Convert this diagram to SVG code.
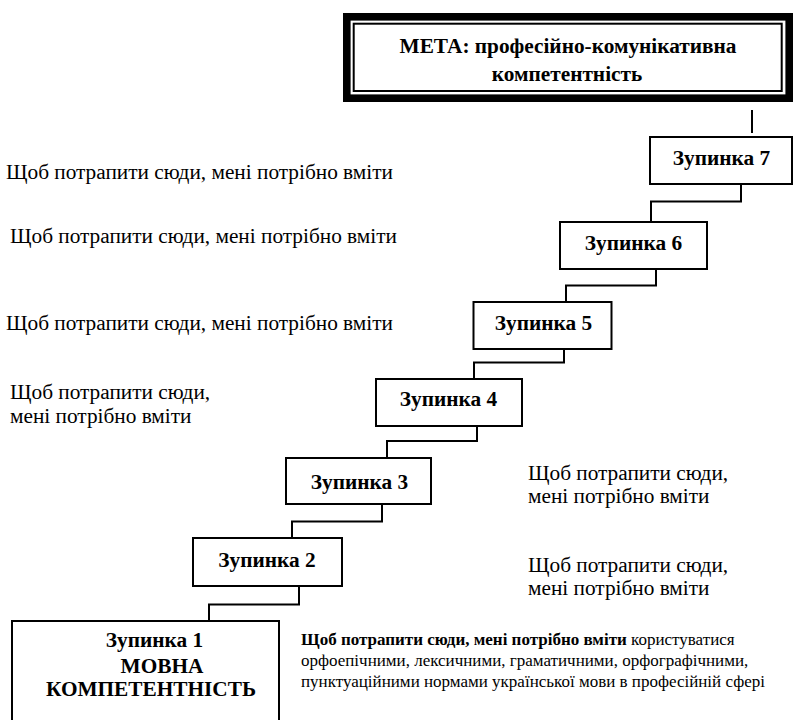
<svg xmlns="http://www.w3.org/2000/svg" width="797" height="720" viewBox="0 0 797 720">
<style>
.box{fill:#fff;stroke:#000;stroke-width:2}
.con{fill:none;stroke:#000;stroke-width:2}
.b{font-family:'Liberation Serif','Times New Roman',serif;font-weight:bold;font-size:21.3px;fill:#000}
.r{font-family:'Liberation Serif','Times New Roman',serif;font-size:21.3px;fill:#000}
.s{font-family:'Liberation Serif','Times New Roman',serif;font-size:17px;fill:#000}
</style>
<rect width="797" height="720" fill="#fff"/>
<g id="connectors">
<path class="con" d="M752,110 V133"/>
<path class="con" d="M741,184 V201.5 H651 V222"/>
<path class="con" d="M656,269 V285.5 H566 V302"/>
<path class="con" d="M564,349 V362.5 H474 V379"/>
<path class="con" d="M477,426 V441 H387 V458"/>
<path class="con" d="M382,504 V521.5 H292 V538"/>
<path class="con" d="M299,586 V604.5 H209 V621"/>
</g>
<g id="goal">
<rect x="346.8" y="16.8" width="442.4" height="81.4" fill="#fff" stroke="#000" stroke-width="7.6"/>
<rect x="353.7" y="23.7" width="428" height="67.3" fill="none" stroke="#000" stroke-width="2"/>
<text class="b" x="568" y="53" text-anchor="middle" font-size="22">МЕТА: професійно-комунікативна</text>
<text class="b" x="567" y="81" text-anchor="middle">компетентність</text>
</g>
<g id="stop7">
<rect class="box" x="650" y="137" width="142" height="47"/>
<text class="b" x="721.5" y="165" text-anchor="middle">Зупинка 7</text>
</g>
<g id="stop6">
<rect class="box" x="560" y="222" width="147" height="47"/>
<text class="b" x="633.5" y="250" text-anchor="middle">Зупинка 6</text>
</g>
<g id="stop5">
<rect class="box" x="473.5" y="302" width="138" height="47"/>
<text class="b" x="543.5" y="330" text-anchor="middle">Зупинка 5</text>
</g>
<g id="stop4">
<rect class="box" x="376" y="379" width="146" height="47"/>
<text class="b" x="448.5" y="406" text-anchor="middle">Зупинка 4</text>
</g>
<g id="stop3">
<rect class="box" x="286" y="458" width="145" height="46"/>
<text class="b" x="359.5" y="489" text-anchor="middle">Зупинка 3</text>
</g>
<g id="stop2">
<rect class="box" x="193" y="538" width="149" height="48"/>
<text class="b" x="267" y="567" text-anchor="middle">Зупинка 2</text>
</g>
<g id="stop1">
<rect class="box" x="12" y="621" width="267" height="110"/>
<text class="b" x="154.5" y="647" text-anchor="middle">Зупинка 1</text>
<text class="b" x="162" y="673" text-anchor="middle">МОВНА</text>
<text class="b" x="151" y="696" text-anchor="middle">КОМПЕТЕНТНІСТЬ</text>
</g>
<g id="labels">
<text class="r" x="6" y="179">Щоб потрапити сюди, мені потрібно вміти</text>
<text class="r" x="10" y="243">Щоб потрапити сюди, мені потрібно вміти</text>
<text class="r" x="6" y="330">Щоб потрапити сюди, мені потрібно вміти</text>
<text class="r" x="10" y="399">Щоб потрапити сюди,</text>
<text class="r" x="10" y="423">мені потрібно вміти</text>
<text class="r" x="528" y="480">Щоб потрапити сюди,</text>
<text class="r" x="528" y="503">мені потрібно вміти</text>
<text class="r" x="528" y="572">Щоб потрапити сюди,</text>
<text class="r" x="528" y="595">мені потрібно вміти</text>
<text class="s" x="301" y="645"><tspan font-weight="bold">Щоб потрапити сюди, мені потрібно вміти</tspan> користуватися</text>
<text class="s" x="301" y="666">орфоепічними, лексичними, граматичними, орфографічними,</text>
<text class="s" x="301" y="687">пунктуаційними нормами української мови в професійній сфері</text>
</g>
</svg>
